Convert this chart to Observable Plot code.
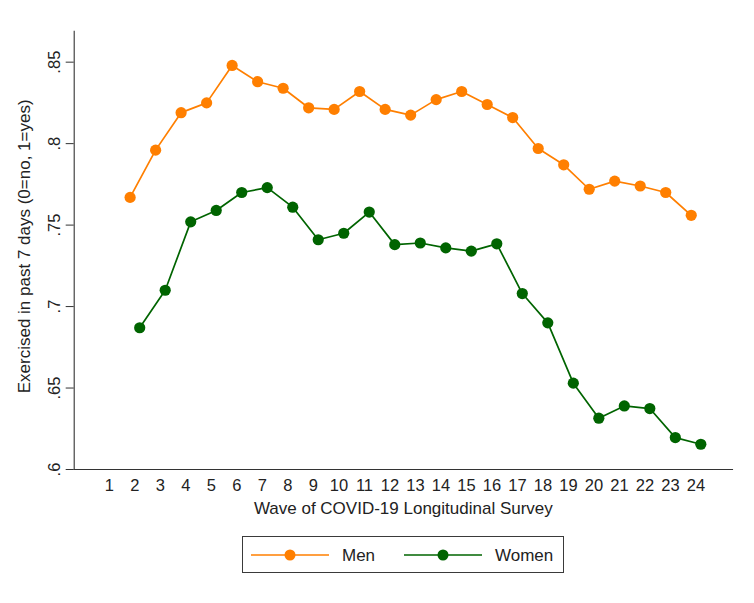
<!DOCTYPE html>
<html>
<head>
<meta charset="utf-8">
<script src="https://cdn.jsdelivr.net/npm/d3@7"></script>
<script src="https://cdn.jsdelivr.net/npm/@observablehq/plot@0.6"></script>
<style>
  html, body { margin: 0; padding: 0; background: #fff; }
  body { width: 754px; height: 603px; position: relative; overflow: hidden; font-family: "Liberation Sans", Arial, sans-serif; }
  #chart { position: absolute; left: 0; top: 0; }
  #legend { position: absolute; left: 242px; top: 536px; width: 322px; height: 37px; box-sizing: border-box; border: 1.2px solid #3a3a3a; background: #fff; }
  #legend svg { display: block; }
</style>
</head>
<body>
<div id="chart"></div>
<div id="legend"></div>
<script>
// ---- data ----
const waveTicks = [1,2,3,4,5,6,7,8,9,10,11,12,13,14,15,16,17,18,19,20,21,22,23,24];
const waves = [2,3,4,5,6,7,8,9,10,11,12,13,14,15,16,17,18,19,20,21,22,23,24];
const menValues = [0.767,0.796,0.819,0.825,0.848,0.838,0.834,0.822,0.821,0.832,0.821,0.8175,0.827,0.832,0.824,0.816,0.797,0.787,0.772,0.777,0.774,0.770,0.756];
const womenValues = [0.687,0.710,0.752,0.759,0.770,0.773,0.761,0.741,0.745,0.758,0.738,0.739,0.736,0.734,0.7385,0.708,0.690,0.653,0.6315,0.639,0.6374,0.6196,0.6155];
const yTicks = [0.6,0.65,0.7,0.75,0.8,0.85];
const yTickLabels = [".6",".65",".7",".75",".8",".85"];
const seriesNames = ["Men","Women"];
const seriesColors = ["#ff7f00","#006400"];
const xTitle = "Wave of COVID-19 Longitudinal Survey";
const yTitle = "Exercised in past 7 days (0=no, 1=yes)";

const men = waves.map((w,i) => ({wave: w, value: menValues[i]}));
const women = waves.map((w,i) => ({wave: w, value: womenValues[i]}));

const FONT = "Liberation Sans, Arial, sans-serif";
const AX = "#333";

const chart = Plot.plot({
  width: 754,
  height: 525,
  marginLeft: 73.7,
  marginRight: 22,
  marginTop: 30.7,
  marginBottom: 56,
  style: {fontFamily: FONT, fontSize: "16.5px", color: "#222", background: "#fff"},
  x: {domain: [-0.38, 25.43]},
  y: {domain: [0.6, 0.869]},
  marks: [
    Plot.frame({anchor: "left", stroke: AX, strokeWidth: 1.1}),
    Plot.frame({anchor: "bottom", stroke: AX, strokeWidth: 1.1}),
    Plot.axisX({ticks: waveTicks, tickSize: 0, tickPadding: 9.5, tickFormat: d => String(d), fontSize: 16.5, label: null, fill: "#222"}),
    Plot.axisY({ticks: yTicks, tickSize: 8, tickRotate: -90, tickPadding: 6.5, tickFormat: (d) => yTickLabels[yTicks.indexOf(d)], fontSize: 16.5, label: null, stroke: AX, fill: "#222"}),
    Plot.text([xTitle], {frameAnchor: "bottom", dy: 39, lineAnchor: "middle", textAnchor: "middle", fontSize: 17, fill: "#222"}),
    Plot.text([yTitle], {frameAnchor: "left", rotate: -90, dx: -50, dy: -4, lineAnchor: "middle", textAnchor: "middle", fontSize: 17, fill: "#222"}),
    Plot.line(men, {x: "wave", y: "value", stroke: seriesColors[0], strokeWidth: 1.7, dx: -4.8}),
    Plot.dot(men, {x: "wave", y: "value", fill: seriesColors[0], r: 5.6, dx: -4.8}),
    Plot.line(women, {x: "wave", y: "value", stroke: seriesColors[1], strokeWidth: 1.7, dx: 4.8}),
    Plot.dot(women, {x: "wave", y: "value", fill: seriesColors[1], r: 5.6, dx: 4.8})
  ]
});
document.getElementById("chart").appendChild(chart);

// ---- legend ----
const lg = d3.select("#legend").append("svg").attr("width", 320).attr("height", 35);
const items = [
  {x0: 8, x1: 86, cx: 47, tx: 99},
  {x0: 161, x1: 239, cx: 200, tx: 252}
];
seriesNames.forEach((name, i) => {
  const it = items[i];
  const g = lg.append("g");
  g.append("line").attr("x1", it.x0).attr("x2", it.x1).attr("y1", 18).attr("y2", 18)
    .attr("stroke", seriesColors[i]).attr("stroke-width", 1.7);
  g.append("circle").attr("cx", it.cx).attr("cy", 18).attr("r", 5.5).attr("fill", seriesColors[i]);
  g.append("text").attr("x", it.tx).attr("y", 18).attr("dy", "0.36em")
    .attr("font-family", FONT).attr("font-size", 17).attr("fill", "#222").text(name);
});
</script>
</body>
</html>
